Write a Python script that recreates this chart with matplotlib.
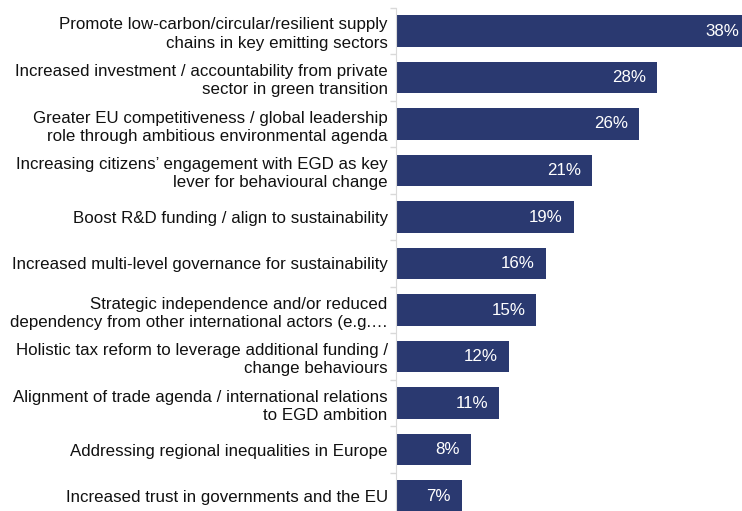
import numpy as np
import matplotlib.pyplot as plt

plt.rcParams['font.family'] = ['Liberation Sans', 'DejaVu Sans']

# Survey answers, top to bottom
labels = [
    "Promote low-carbon/circular/resilient supply\nchains in key emitting sectors",
    "Increased investment / accountability from private\nsector in green transition",
    "Greater EU competitiveness / global leadership\nrole through ambitious environmental agenda",
    "Increasing citizens\u2019 engagement with EGD as key\nlever for behavioural change",
    "Boost R&D funding / align to sustainability",
    "Increased multi-level governance for sustainability",
    "Strategic independence and/or reduced\ndependency from other international actors (e.g.\u2026",
    "Holistic tax reform to leverage additional funding /\nchange behaviours",
    "Alignment of trade agenda / international relations\nto EGD ambition",
    "Addressing regional inequalities in Europe",
    "Increased trust in governments and the EU",
]
values = [38, 28, 26, 21, 19, 16, 15, 12, 11, 8, 7]

bar_color = '#2A3970'
axis_grey = '#D9D9D9'

fig = plt.figure(figsize=(7.42, 5.11), dpi=100)
ax = fig.add_axes([396 / 742, (511 - 519.25) / 511, 346 / 742, 511.5 / 511])

y = np.arange(len(values))
ax.barh(y, values, height=0.667, color=bar_color, left=0.1)
ax.set_xlim(0, 37.2)
ax.set_ylim(len(values) - 0.5, -0.5)

# value labels inside bar ends (the longest bar runs off the chart edge)
for yi, v in zip(y, values):
    ax.annotate(f"{v}%", xy=(v + 0.1, yi), xytext=(-8, 0),
                textcoords='offset points', ha='right', va='center',
                color='white', fontsize=12.2, annotation_clip=False)

ax.set_yticks(y)
ax.set_yticklabels(labels, fontsize=12.2, color='#111111', linespacing=1.28)
ax.set_yticks(np.arange(-0.5, len(values), 1), minor=True)
ax.tick_params(axis='y', which='major', length=0, pad=6)
ax.tick_params(axis='y', which='minor', length=4, color=axis_grey, width=1)
ax.set_xticks([])

for s in ['top', 'right', 'bottom']:
    ax.spines[s].set_visible(False)
ax.spines['left'].set_color(axis_grey)

fig.savefig('out.png', dpi=100)
